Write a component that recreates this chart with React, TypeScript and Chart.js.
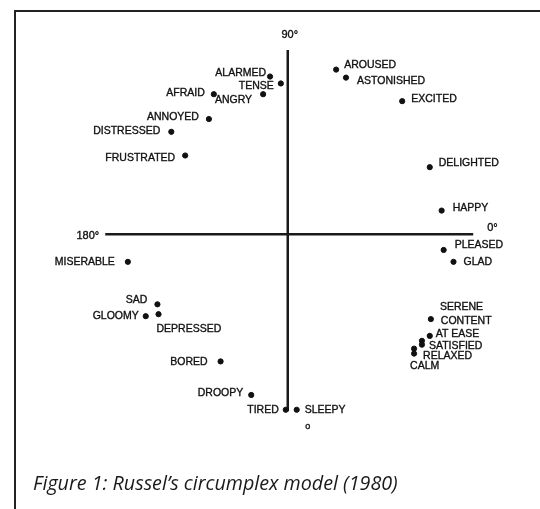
import React, { useEffect, useRef } from "react";
import { Chart, registerables } from "chart.js";

Chart.register(...registerables);

// ---- data (circumplex coordinates, pleasure = x, arousal = y) ----
const emotions = [
  "ALARMED", "TENSE", "AFRAID", "ANGRY", "ANNOYED", "DISTRESSED", "FRUSTRATED",
  "AROUSED", "ASTONISHED", "EXCITED", "DELIGHTED", "HAPPY", "PLEASED", "GLAD",
  "SERENE", "CONTENT", "AT EASE", "SATISFIED", "RELAXED", "CALM",
  "MISERABLE", "SAD", "GLOOMY", "DEPRESSED", "BORED", "DROOPY", "TIRED", "SLEEPY",
];
const pleasure = [
  -0.097, -0.038, -0.405, -0.135, -0.432, -0.638, -0.562,
  0.265, 0.319, 0.627, 0.778, 0.843, 0.854, 0.908,
  0.735, 0.784, 0.778, 0.735, 0.692, 0.692,
  -0.876, -0.714, -0.778, -0.708, -0.368, -0.2, -0.011, 0.049,
];
const arousal = [
  0.865, 0.827, 0.768, 0.768, 0.632, 0.562, 0.432,
  0.903, 0.859, 0.73, 0.368, 0.13, -0.086, -0.151,
  -0.584, -0.465, -0.557, -0.605, -0.627, -0.654,
  -0.151, -0.384, -0.449, -0.438, -0.697, -0.881, -0.962, -0.962,
];
const verticalAxisX = [0, 0];
const verticalAxisY = [1.01, -0.97];
const horizontalAxisX = [-1.0, 1.016];
const horizontalAxisY = [0, 0];
const angleLabels = ["90°", "180°", "0°", "o"];
const caption = "Figure 1: Russel’s circumplex model (1980)";

// ---- label placement (style only) ----
const labelPlacement: Record<string, [number, number, CanvasTextAlign]> = {
  ALARMED: [-4, -3, "right"],
  TENSE: [-7, 3, "right"],
  AFRAID: [-9, -1, "right"],
  ANGRY: [-11, 6, "right"],
  ANNOYED: [-10, -2, "right"],
  DISTRESSED: [-11, -1, "right"],
  FRUSTRATED: [-10, 3, "right"],
  AROUSED: [8, -4, "left"],
  ASTONISHED: [11, 3, "left"],
  EXCITED: [9, -2, "left"],
  DELIGHTED: [9, -4, "left"],
  HAPPY: [11, -2, "left"],
  PLEASED: [11, -5, "left"],
  GLAD: [10, 0, "left"],
  SERENE: [18, -34, "left"],
  CONTENT: [10, 2, "left"],
  "AT EASE": [6, -2, "left"],
  SATISFIED: [7, 1, "left"],
  RELAXED: [9, 7, "left"],
  CALM: [-4, 13, "left"],
  MISERABLE: [-13, 0, "right"],
  SAD: [-10, -4, "right"],
  GLOOMY: [-7, 0, "right"],
  DEPRESSED: [-2, 15, "left"],
  BORED: [-13, 1, "right"],
  DROOPY: [-8, -2, "right"],
  TIRED: [-7, 0, "right"],
  SLEEPY: [8, 0, "left"],
};

const labelPlugin = {
  id: "emotionLabels",
  afterDatasetsDraw(chart: any) {
    const ctx = chart.ctx;
    const meta = chart.getDatasetMeta(0);
    ctx.save();
    ctx.fillStyle = "#111";
    ctx.strokeStyle = "#111";
    ctx.lineWidth = 0.35;
    ctx.font = "10.5px 'Liberation Sans', Arial, sans-serif";
    ctx.textBaseline = "middle";
    const put = (t: string, x: number, y: number) => {
      ctx.fillText(t, x, y);
      ctx.strokeText(t, x, y);
    };
    meta.data.forEach((pt: any, i: number) => {
      const name = emotions[i];
      const [dx, dy, align] = labelPlacement[name] || [8, 0, "left"];
      ctx.textAlign = align;
      put(name, pt.x + dx, pt.y + dy);
    });
    // angle labels
    const xs = chart.scales.x;
    const ys = chart.scales.y;
    ctx.font = "11px 'Liberation Sans', Arial, sans-serif";
    ctx.textAlign = "center";
    put(angleLabels[0], xs.getPixelForValue(verticalAxisX[0]) + 2, ys.getPixelForValue(verticalAxisY[0]) - 15);
    ctx.textAlign = "right";
    put(angleLabels[1], xs.getPixelForValue(horizontalAxisX[0]) - 6, ys.getPixelForValue(horizontalAxisY[0]) + 2);
    ctx.textAlign = "left";
    put(angleLabels[2], xs.getPixelForValue(horizontalAxisX[1]) + 14, ys.getPixelForValue(horizontalAxisY[1]) - 6);
    ctx.font = "9px 'Liberation Sans', Arial, sans-serif";
    ctx.textAlign = "center";
    put(angleLabels[3], xs.getPixelForValue(verticalAxisX[1]) + 20, ys.getPixelForValue(verticalAxisY[1]) + 15);
    ctx.restore();
  },
};

export default function App() {
  const ref = useRef<HTMLCanvasElement>(null);
  useEffect(() => {
    if (!ref.current) return;
    const chart = new Chart(ref.current, {
      type: "scatter",
      data: {
        datasets: [
          {
            data: emotions.map((_, i) => ({ x: pleasure[i], y: arousal[i] })),
            backgroundColor: "#111",
            borderColor: "#111",
            pointRadius: 2.6,
            pointHoverRadius: 2.6,
          },
          {
            data: verticalAxisX.map((x, i) => ({ x, y: verticalAxisY[i] })),
            showLine: true,
            borderColor: "#1a1a1a",
            borderWidth: 2.5,
            pointRadius: 0,
          },
          {
            data: horizontalAxisX.map((x, i) => ({ x, y: horizontalAxisY[i] })),
            showLine: true,
            borderColor: "#1a1a1a",
            borderWidth: 2.5,
            pointRadius: 0,
          },
        ],
      },
      options: {
        responsive: false,
        animation: false,
        layout: { padding: 0 },
        plugins: { legend: { display: false }, tooltip: { enabled: false } },
        scales: {
          x: { type: "linear", min: -288 / 185, max: 252 / 185, display: false },
          y: { type: "linear", min: -275 / 185, max: 234 / 185, display: false },
        },
      },
      plugins: [labelPlugin],
    });
    return () => chart.destroy();
  }, []);

  return (
    <div style={{ position: "fixed", left: 0, top: 0, width: 540, height: 509, background: "#fff", overflow: "hidden" }}>
      <div style={{ position: "absolute", left: 14, top: 10, width: 540, height: 520, borderTop: "2px solid #222", borderLeft: "2px solid #222" }} />
      <canvas ref={ref} width={540} height={509} style={{ position: "absolute", left: 0, top: 0 }} />
      <div
        style={{
          position: "absolute",
          left: 33,
          top: 470,
          fontFamily: "'Open Sans', sans-serif",
          fontStyle: "italic",
          fontSize: 19.7,
          color: "#1a1a1a",
          whiteSpace: "nowrap",
          lineHeight: "26px",
        }}
      >
        {caption}
      </div>
    </div>
  );
}
